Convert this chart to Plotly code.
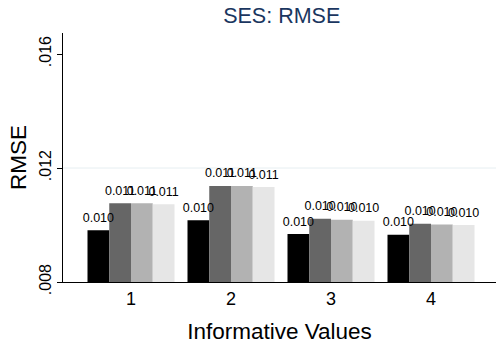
import plotly.graph_objects as go

categories = ["1", "2", "3", "4"]
series_names = ["s1", "s2", "s3", "s4"]
series_values = [
    [0.00982, 0.01017, 0.00968, 0.00966],
    [0.01076, 0.01137, 0.01022, 0.01004],
    [0.01076, 0.01137, 0.01018, 0.01002],
    [0.01073, 0.01133, 0.01015, 0.01000],
]
bar_colors = ["#000000", "#666666", "#b2b2b2", "#e6e6e6"]
y_tickvals = [0.008, 0.012, 0.016]
y_ticktext = [".008", ".012", ".016"]
grid_value = 0.012

FONT = "Liberation Sans, Arial, Helvetica, sans-serif"

fig = go.Figure()
for i, (name, vals, col) in enumerate(zip(series_names, series_values, bar_colors)):
    fig.add_trace(go.Bar(
        x=categories, y=vals, name=name, offsetgroup=str(i),
        marker=dict(color=col, line=dict(width=0)),
        hoverinfo="skip",
    ))
for i, (name, vals) in enumerate(zip(series_names, series_values)):
    fig.add_trace(go.Scatter(
        x=categories, y=vals, name=name + " label", offsetgroup=str(i),
        mode="markers+text", text=[f"{v:.3f}" for v in vals],
        marker=dict(size=7, opacity=0),
        textposition="top center",
        textfont=dict(size=12.5, color="#000000", family=FONT),
        cliponaxis=False, hoverinfo="skip",
    ))

fig.add_shape(type="line", xref="paper", x0=0, x1=1, yref="y",
              y0=grid_value, y1=grid_value,
              line=dict(color="#e6eef1", width=1), layer="below")

fig.update_layout(
    width=496, height=346,
    margin=dict(l=63, r=0, t=33, b=64),
    paper_bgcolor="white", plot_bgcolor="white",
    barmode="group", bargap=0.13, bargroupgap=0,
    scattermode="group", scattergap=0.13,
    showlegend=False,
    font=dict(family=FONT, color="#000000"),
    title=dict(text="SES: RMSE", x=0.568, xanchor="center", y=0.954, yanchor="middle",
               font=dict(size=21.5, color="#1a3660", family=FONT)),
    xaxis=dict(
        type="category", range=[-0.68, 3.65], automargin=False,
        showline=True, linecolor="#000000", linewidth=1,
        ticks="", tickfont=dict(size=18),
        title=dict(text="Informative Values", font=dict(size=22.5), standoff=15),
        showgrid=False, zeroline=False,
    ),
    yaxis=dict(
        range=[0.008, 0.016737], automargin=False,
        tickvals=y_tickvals, ticktext=y_ticktext, tickangle=-90,
        ticks="outside", ticklen=5, tickcolor="#000000",
        tickfont=dict(size=16),
        showline=True, linecolor="#000000", linewidth=1,
        showgrid=False, zeroline=False,
        title=dict(text="RMSE", font=dict(size=22.5), standoff=3),
    ),
)

fig.write_html("out.html", config={"displayModeBar": False},
               post_script="document.body.style.margin='0';document.body.style.overflow='hidden';")
